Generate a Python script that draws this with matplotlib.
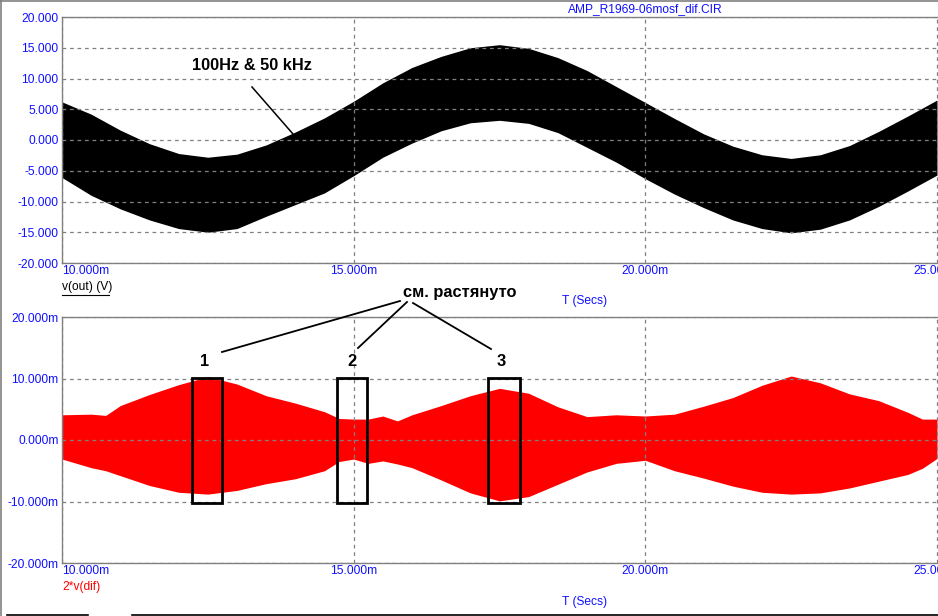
import numpy as np
import matplotlib
matplotlib.use('Agg')
import matplotlib.pyplot as plt
from matplotlib.lines import Line2D
from matplotlib.patches import Rectangle

# time axis in ms, envelope values
t_out = [10.0, 10.5, 11.0, 11.5, 12.0, 12.5, 13.0, 13.5, 14.0, 14.5, 15.0,
         15.5, 16.0, 16.5, 17.0, 17.5, 18.0, 18.5, 19.0, 19.5, 20.0, 20.5,
         21.0, 21.5, 22.0, 22.5, 23.0, 23.5, 24.0, 24.5, 25.0]
out_hi = [6.2, 4.2, 1.6, -0.6, -2.2, -2.8, -2.3, -0.8, 1.3, 3.6, 6.3,
          9.3, 11.8, 13.6, 15.0, 15.5, 14.9, 13.4, 11.3, 8.7, 6.1, 3.5,
          1.0, -1.0, -2.4, -3.0, -2.4, -0.9, 1.4, 3.9, 6.5]
out_lo = [-6.1, -9.0, -11.2, -13.0, -14.4, -15.0, -14.4, -12.4, -10.5, -8.6, -5.8,
          -2.8, -0.5, 1.5, 2.8, 3.2, 2.7, 1.2, -1.2, -3.6, -6.3, -8.8,
          -11.0, -13.0, -14.4, -15.1, -14.5, -13.0, -10.8, -8.3, -5.7]

t_dif = [10.0, 10.5, 10.75, 11.0, 11.5, 12.0, 12.5, 13.0, 13.5, 14.0, 14.5,
         14.75, 15.0, 15.25, 15.5, 15.75, 16.0, 16.5, 17.0, 17.5, 18.0, 18.5,
         19.0, 19.5, 20.0, 20.5, 21.0, 21.5, 22.0, 22.5, 23.0, 23.5, 24.0,
         24.5, 24.75, 25.0]
dif_hi = [4.1, 4.2, 4.0, 5.6, 7.4, 9.0, 10.3, 9.1, 7.2, 6.0, 4.6,
          3.5, 3.4, 3.4, 3.9, 3.1, 4.1, 5.6, 7.2, 8.4, 7.6, 5.4,
          3.8, 4.1, 3.9, 4.2, 5.5, 6.9, 8.9, 10.4, 9.3, 7.5, 6.4,
          4.5, 3.4, 3.4]
dif_lo = [-3.1, -4.5, -5.0, -5.8, -7.4, -8.5, -8.8, -8.2, -7.1, -6.3, -5.0,
          -3.5, -3.1, -3.8, -3.4, -3.9, -4.5, -6.5, -8.6, -9.9, -9.2, -7.2,
          -5.2, -3.8, -3.3, -5.0, -6.2, -7.5, -8.5, -8.8, -8.6, -7.8, -6.7,
          -5.6, -4.6, -3.0]

x_ticks = [10, 15, 20, 25]
top_ticks = [20, 15, 10, 5, 0, -5, -10, -15, -20]
bot_ticks = [20, 10, 0, -10, -20]

# zoomed-in windows marked on the lower trace
box_t = [(12.23, 12.74), (14.71, 15.23), (17.30, 17.85)]
box_v = (-10.2, 10.1)
box_names = ['1', '2', '3']

W, H = 938, 616
plt.rcParams['font.family'] = ['Liberation Sans', 'DejaVu Sans']
fig = plt.figure(figsize=(W / 100, H / 100), dpi=100)


def fx(x):
    return x / W


def fy(y):
    return 1 - y / H


BLUE = '#1010ff'
GRID = '#808080'
x_right = 25 + 8 / 58.37


def setup(ax, ticks, fmt):
    ax.set_xlim(10, x_right)
    ax.set_xticks(x_ticks, ['%.3fm' % v for v in x_ticks])
    ax.set_yticks(ticks, [fmt % v for v in ticks])
    ax.tick_params(length=0, labelsize=8.64, labelcolor=BLUE, pad=2.5)
    ax.tick_params(axis='x', pad=1.5)
    ax.get_xticklabels()[0].set_ha('left')
    for s in ax.spines.values():
        s.set_color(GRID)
        s.set_linewidth(1.0)
    ax.grid(True, color=GRID, linestyle=(0, (3, 3)), linewidth=0.9)
    ax.set_axisbelow(False)


ax1 = fig.add_axes([fx(62), fy(263), fx(945 - 62), (263 - 17) / H])
ax1.fill_between(t_out, out_lo, out_hi, color='black', lw=0, zorder=1)
ax1.set_ylim(-20, 20)
setup(ax1, top_ticks, '%.3f')

ax2 = fig.add_axes([fx(62), fy(563), fx(945 - 62), (563 - 317) / H])
ax2.fill_between(t_dif, dif_lo, dif_hi, color='#ff0000', lw=0, zorder=1)
ax2.set_ylim(-20, 20)
setup(ax2, bot_ticks, '%.3fm')

for (a, b), name in zip(box_t, box_names):
    ax2.add_patch(Rectangle((a, box_v[0]), b - a, box_v[1] - box_v[0],
                            fill=False, ec='black', lw=2.0, zorder=5))

# texts
fig.text(fx(645), fy(9.5), 'AMP_R1969-06mosf_dif.CIR', color=BLUE,
         fontsize=8.64, ha='center', va='center')
fig.text(fx(62), fy(287), 'v(out) (V)', color='black', fontsize=8.64,
         ha='left', va='center')
fig.add_artist(Line2D([fx(62), fx(109)], [fy(295), fy(295)], color='black', lw=0.8))
fig.text(fx(62), fy(587), '2*v(dif)', color='#ff0000', fontsize=8.64,
         ha='left', va='center')
fig.text(fx(585), fy(301), 'T (Secs)', color=BLUE, fontsize=8.64,
         ha='center', va='center')
fig.text(fx(585), fy(602), 'T (Secs)', color=BLUE, fontsize=8.64,
         ha='center', va='center')

fig.text(fx(252), fy(70), '100Hz & 50 kHz', fontsize=11.8, fontweight='bold',
         ha='center', va='baseline')
fig.add_artist(Line2D([fx(252), fx(293)], [fy(87), fy(134)], color='black', lw=1.1))

fig.text(fx(459.5), fy(297), 'см. растянуто', fontsize=11.8, fontweight='bold',
         ha='center', va='baseline')
for x0, y0, x1, y1 in [(400, 301, 222, 352), (407, 302, 358, 348), (413, 303, 491, 349)]:
    fig.add_artist(Line2D([fx(x0), fx(x1)], [fy(y0), fy(y1)], color='black', lw=1.3))
for name, xc in zip(box_names, [205, 352, 501]):
    fig.text(fx(xc), fy(366), name, fontsize=11.8, fontweight='bold',
             ha='center', va='baseline')

# window frame
fig.add_artist(Line2D([0, 1], [fy(0.5), fy(0.5)], color=GRID, lw=1.2))
fig.add_artist(Line2D([fx(0.5), fx(0.5)], [0, 1], color=GRID, lw=1.2))
fig.add_artist(Line2D([fx(7), fx(88)], [fy(615), fy(615)], color='black', lw=1.2))
fig.add_artist(Line2D([fx(132), 1], [fy(615), fy(615)], color='black', lw=1.2))

fig.savefig('out.png', dpi=100)
